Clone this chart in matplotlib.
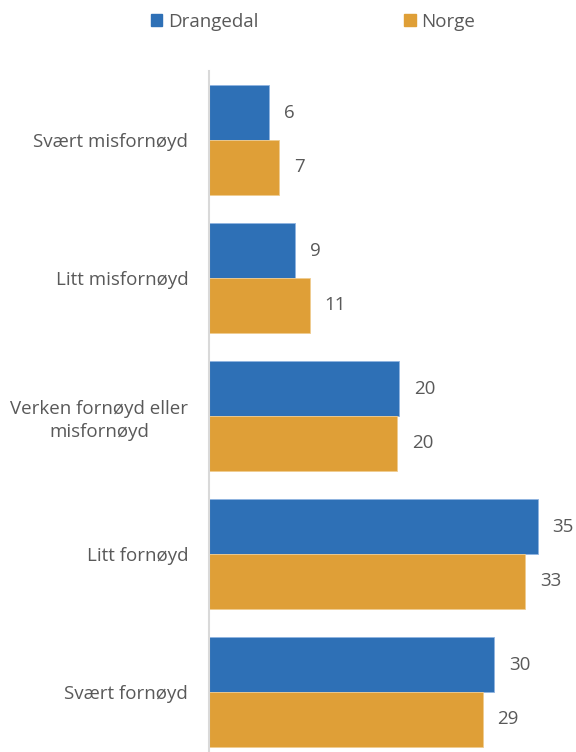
import matplotlib.pyplot as plt
from matplotlib.patches import Patch

kategorier = ['Svært misfornøyd', 'Litt misfornøyd', 'Verken fornøyd eller\nmisfornøyd',
              'Litt fornøyd', 'Svært fornøyd']
drangedal = [6.3, 9.1, 20.0, 34.6, 30.0]
norge = [7.4, 10.6, 19.8, 33.3, 28.8]

blaa = '#2E70B6'
oransje = '#DF9F37'
tekst = '#595959'

plt.rcParams['font.family'] = ['Open Sans', 'DejaVu Sans']

fig = plt.figure(figsize=(5.76, 7.52), dpi=100)
ax = fig.add_axes([209 / 576, -9 / 752, 361 / 576, 690 / 752])

h = 0.397
y = list(range(len(kategorier)))
b1 = ax.barh([i - h / 2 for i in y], drangedal, height=h, color=blaa, edgecolor='#8fb4e0', linewidth=0.6)
b2 = ax.barh([i + h / 2 for i in y], norge, height=h, color=oransje, edgecolor='#f0cc90', linewidth=0.6)

for bars, vals in [(b1, drangedal), (b2, norge)]:
    for bar, v in zip(bars, vals):
        ax.text(bar.get_width() + 1.55, bar.get_y() + bar.get_height() / 2, f'{v:.0f}',
                va='center', ha='left', fontsize=13.5, color=tekst)

ax.set_xlim(0, 38)
ax.set_ylim(len(kategorier) - 0.5, -0.5)
ax.set_yticks(y)
ax.set_yticklabels(kategorier, fontsize=13.5, color=tekst, ha='right', multialignment='center',
                   linespacing=1.35)
ax.tick_params(axis='y', length=0, pad=15)
ax.set_xticks([])
for s in ['top', 'right', 'bottom']:
    ax.spines[s].set_visible(False)
ax.spines['left'].set_color('#D9D9D9')
ax.spines['left'].set_linewidth(1.5)

handles = [Patch(color=blaa, label='Drangedal'), Patch(color=oransje, label='Norge')]
fig.legend(handles=handles, loc='center', bbox_to_anchor=(313 / 576, 1 - 22 / 752), ncol=2,
           frameon=False, fontsize=13.5, handlelength=0.6, handleheight=0.6,
           handletextpad=0.3, columnspacing=7.8, labelcolor=tekst)

fig.savefig('out.png', dpi=100)
